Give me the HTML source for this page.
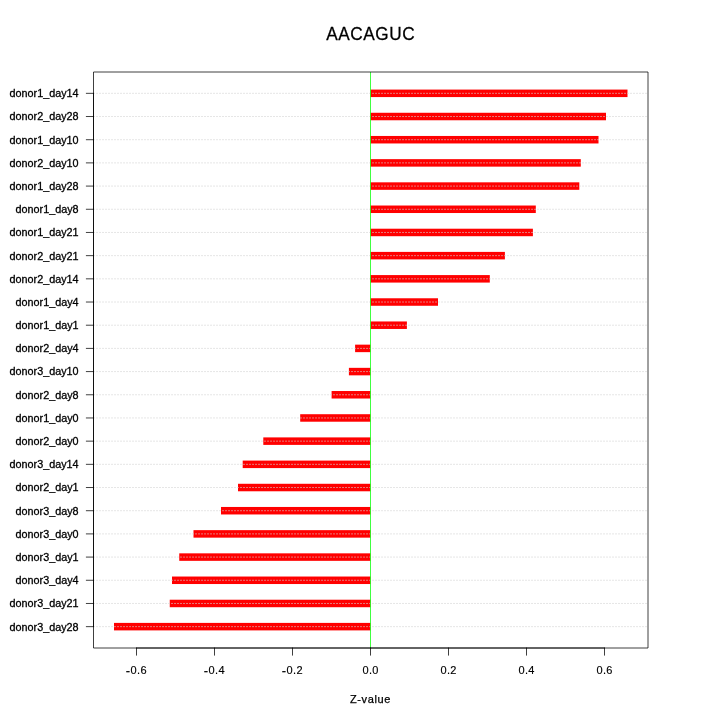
<!DOCTYPE html>
<html><head><meta charset="utf-8"><title>AACAGUC</title>
<style>
html,body{margin:0;padding:0;background:#fff;}
body{width:720px;height:720px;overflow:hidden;}
svg{display:block;}
text{font-family:"Liberation Sans",sans-serif;fill:#000;stroke:#000;stroke-width:0.25;}
.yl{font-size:10.8px;text-anchor:end;stroke-width:0.3;}
.xl{font-size:11px;letter-spacing:0.35px;text-anchor:middle;stroke-width:0.15;}
.ln{stroke:#000;stroke-width:0.75;fill:none;stroke-linecap:round;}
.bx{stroke:#000;stroke-width:0.75;fill:none;stroke-linejoin:round;}
.gr{stroke:#d3d3d3;stroke-width:0.75;fill:none;stroke-dasharray:0.75 2.25;stroke-linecap:round;}
</style></head><body>
<svg width="720" height="720" viewBox="0 0 720 720">
<rect width="720" height="720" fill="#fff"/>
<g fill="#ff0000">
<rect x="370.50" y="89.58" width="257.00" height="7.5"/>
<rect x="370.50" y="112.77" width="235.50" height="7.5"/>
<rect x="370.50" y="135.96" width="228.00" height="7.5"/>
<rect x="370.50" y="159.14" width="210.30" height="7.5"/>
<rect x="370.50" y="182.33" width="208.80" height="7.5"/>
<rect x="370.50" y="205.52" width="165.30" height="7.5"/>
<rect x="370.50" y="228.71" width="162.40" height="7.5"/>
<rect x="370.50" y="251.90" width="134.40" height="7.5"/>
<rect x="370.50" y="275.08" width="119.30" height="7.5"/>
<rect x="370.50" y="298.27" width="67.50" height="7.5"/>
<rect x="370.50" y="321.46" width="36.40" height="7.5"/>
<rect x="355.10" y="344.65" width="15.40" height="7.5"/>
<rect x="348.90" y="367.84" width="21.60" height="7.5"/>
<rect x="331.60" y="391.02" width="38.90" height="7.5"/>
<rect x="300.20" y="414.21" width="70.30" height="7.5"/>
<rect x="263.30" y="437.40" width="107.20" height="7.5"/>
<rect x="242.70" y="460.59" width="127.80" height="7.5"/>
<rect x="238.00" y="483.78" width="132.50" height="7.5"/>
<rect x="221.00" y="506.96" width="149.50" height="7.5"/>
<rect x="193.50" y="530.15" width="177.00" height="7.5"/>
<rect x="179.25" y="553.34" width="191.25" height="7.5"/>
<rect x="172.00" y="576.53" width="198.50" height="7.5"/>
<rect x="169.75" y="599.72" width="200.75" height="7.5"/>
<rect x="114.00" y="622.90" width="256.50" height="7.5"/>
</g>
<g class="gr">
<line x1="93.65" y1="93.33" x2="648.0" y2="93.33"/>
<line x1="93.65" y1="116.52" x2="648.0" y2="116.52"/>
<line x1="93.65" y1="139.71" x2="648.0" y2="139.71"/>
<line x1="93.65" y1="162.89" x2="648.0" y2="162.89"/>
<line x1="93.65" y1="186.08" x2="648.0" y2="186.08"/>
<line x1="93.65" y1="209.27" x2="648.0" y2="209.27"/>
<line x1="93.65" y1="232.46" x2="648.0" y2="232.46"/>
<line x1="93.65" y1="255.65" x2="648.0" y2="255.65"/>
<line x1="93.65" y1="278.83" x2="648.0" y2="278.83"/>
<line x1="93.65" y1="302.02" x2="648.0" y2="302.02"/>
<line x1="93.65" y1="325.21" x2="648.0" y2="325.21"/>
<line x1="93.65" y1="348.40" x2="648.0" y2="348.40"/>
<line x1="93.65" y1="371.59" x2="648.0" y2="371.59"/>
<line x1="93.65" y1="394.77" x2="648.0" y2="394.77"/>
<line x1="93.65" y1="417.96" x2="648.0" y2="417.96"/>
<line x1="93.65" y1="441.15" x2="648.0" y2="441.15"/>
<line x1="93.65" y1="464.34" x2="648.0" y2="464.34"/>
<line x1="93.65" y1="487.53" x2="648.0" y2="487.53"/>
<line x1="93.65" y1="510.71" x2="648.0" y2="510.71"/>
<line x1="93.65" y1="533.90" x2="648.0" y2="533.90"/>
<line x1="93.65" y1="557.09" x2="648.0" y2="557.09"/>
<line x1="93.65" y1="580.28" x2="648.0" y2="580.28"/>
<line x1="93.65" y1="603.47" x2="648.0" y2="603.47"/>
<line x1="93.65" y1="626.65" x2="648.0" y2="626.65"/>
</g>
<line x1="370.5" y1="72.0" x2="370.5" y2="648.0" stroke="#00ff00" stroke-width="0.75"/>
<rect class="bx" x="93.5" y="72.0" width="554.5" height="576.0"/>
<line class="ln" x1="136.50" y1="648.0" x2="604.50" y2="648.0"/>
<line class="ln" x1="136.50" y1="648.0" x2="136.50" y2="655.2"/>
<line class="ln" x1="214.50" y1="648.0" x2="214.50" y2="655.2"/>
<line class="ln" x1="292.50" y1="648.0" x2="292.50" y2="655.2"/>
<line class="ln" x1="370.50" y1="648.0" x2="370.50" y2="655.2"/>
<line class="ln" x1="448.50" y1="648.0" x2="448.50" y2="655.2"/>
<line class="ln" x1="526.50" y1="648.0" x2="526.50" y2="655.2"/>
<line class="ln" x1="604.50" y1="648.0" x2="604.50" y2="655.2"/>
<text class="xl" x="136.35" y="674.1"><tspan font-size="13" dy="0.45">-</tspan><tspan dy="-0.45">0.6</tspan></text>
<text class="xl" x="214.35" y="674.1"><tspan font-size="13" dy="0.45">-</tspan><tspan dy="-0.45">0.4</tspan></text>
<text class="xl" x="292.35" y="674.1"><tspan font-size="13" dy="0.45">-</tspan><tspan dy="-0.45">0.2</tspan></text>
<text class="xl" x="370.68" y="674.1">0.0</text>
<text class="xl" x="448.68" y="674.1">0.2</text>
<text class="xl" x="526.68" y="674.1">0.4</text>
<text class="xl" x="604.68" y="674.1">0.6</text>
<line class="ln" x1="93.5" y1="93.33" x2="93.5" y2="626.65"/>
<line class="ln" x1="86.3" y1="93.33" x2="93.5" y2="93.33"/>
<line class="ln" x1="86.3" y1="116.52" x2="93.5" y2="116.52"/>
<line class="ln" x1="86.3" y1="139.71" x2="93.5" y2="139.71"/>
<line class="ln" x1="86.3" y1="162.89" x2="93.5" y2="162.89"/>
<line class="ln" x1="86.3" y1="186.08" x2="93.5" y2="186.08"/>
<line class="ln" x1="86.3" y1="209.27" x2="93.5" y2="209.27"/>
<line class="ln" x1="86.3" y1="232.46" x2="93.5" y2="232.46"/>
<line class="ln" x1="86.3" y1="255.65" x2="93.5" y2="255.65"/>
<line class="ln" x1="86.3" y1="278.83" x2="93.5" y2="278.83"/>
<line class="ln" x1="86.3" y1="302.02" x2="93.5" y2="302.02"/>
<line class="ln" x1="86.3" y1="325.21" x2="93.5" y2="325.21"/>
<line class="ln" x1="86.3" y1="348.40" x2="93.5" y2="348.40"/>
<line class="ln" x1="86.3" y1="371.59" x2="93.5" y2="371.59"/>
<line class="ln" x1="86.3" y1="394.77" x2="93.5" y2="394.77"/>
<line class="ln" x1="86.3" y1="417.96" x2="93.5" y2="417.96"/>
<line class="ln" x1="86.3" y1="441.15" x2="93.5" y2="441.15"/>
<line class="ln" x1="86.3" y1="464.34" x2="93.5" y2="464.34"/>
<line class="ln" x1="86.3" y1="487.53" x2="93.5" y2="487.53"/>
<line class="ln" x1="86.3" y1="510.71" x2="93.5" y2="510.71"/>
<line class="ln" x1="86.3" y1="533.90" x2="93.5" y2="533.90"/>
<line class="ln" x1="86.3" y1="557.09" x2="93.5" y2="557.09"/>
<line class="ln" x1="86.3" y1="580.28" x2="93.5" y2="580.28"/>
<line class="ln" x1="86.3" y1="603.47" x2="93.5" y2="603.47"/>
<line class="ln" x1="86.3" y1="626.65" x2="93.5" y2="626.65"/>
<text class="yl" x="78.6" y="97">donor1_day14</text>
<text class="yl" x="78.6" y="120">donor2_day28</text>
<text class="yl" x="78.6" y="144">donor1_day10</text>
<text class="yl" x="78.6" y="167">donor2_day10</text>
<text class="yl" x="78.6" y="190">donor1_day28</text>
<text class="yl" x="78.6" y="213">donor1_day8</text>
<text class="yl" x="78.6" y="236">donor1_day21</text>
<text class="yl" x="78.6" y="260">donor2_day21</text>
<text class="yl" x="78.6" y="283">donor2_day14</text>
<text class="yl" x="78.6" y="306">donor1_day4</text>
<text class="yl" x="78.6" y="329">donor1_day1</text>
<text class="yl" x="78.6" y="352">donor2_day4</text>
<text class="yl" x="78.6" y="375">donor3_day10</text>
<text class="yl" x="78.6" y="399">donor2_day8</text>
<text class="yl" x="78.6" y="422">donor1_day0</text>
<text class="yl" x="78.6" y="445">donor2_day0</text>
<text class="yl" x="78.6" y="468">donor3_day14</text>
<text class="yl" x="78.6" y="491">donor2_day1</text>
<text class="yl" x="78.6" y="515">donor3_day8</text>
<text class="yl" x="78.6" y="538">donor3_day0</text>
<text class="yl" x="78.6" y="561">donor3_day1</text>
<text class="yl" x="78.6" y="584">donor3_day4</text>
<text class="yl" x="78.6" y="607">donor3_day21</text>
<text class="yl" x="78.6" y="631">donor3_day28</text>
<text transform="translate(370.75,39.95) scale(1,1.05)" font-size="17.2" letter-spacing="0.6" text-anchor="middle" stroke-width="0.15">AACAGUC</text>
<text x="370.5" y="702.8" font-size="11" letter-spacing="0.62" text-anchor="middle">Z-value</text>
</svg></body></html>
